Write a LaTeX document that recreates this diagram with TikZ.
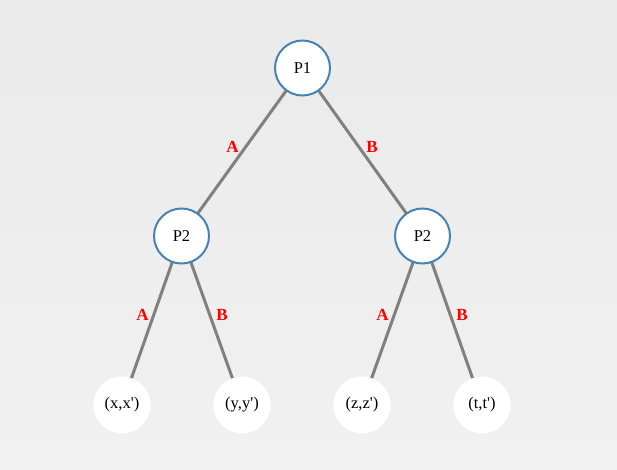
\documentclass[tikz,border=0pt]{standalone}
\usepackage{fontspec}
\setmainfont{Liberation Serif}[Ligatures=TeXOff]
\begin{document}
\begin{tikzpicture}[x=1pt,y=-1pt,
  player/.style={circle,draw=steelblue,line width=2pt,fill=white,minimum size=55pt,inner sep=0pt,font=\fontsize{16.5}{18}\selectfont},
  leaf/.style={circle,fill=white,minimum size=57pt,inner sep=0pt,font=\fontsize{16.5}{18}\selectfont},
  edge/.style={draw=edgegray,line width=3pt},
  lab/.style={text=red,font=\fontsize{17}{18}\selectfont\bfseries,inner sep=0pt}]
\definecolor{steelblue}{HTML}{4682B4}
\definecolor{edgegray}{HTML}{808080}
\definecolor{bgtop}{HTML}{EAEAEA}
\definecolor{bgbot}{HTML}{F1F1F1}
\shade[top color=bgtop,bottom color=bgbot] (0,0) rectangle (617,470);
\useasboundingbox (0,0) rectangle (617,470);
\coordinate (c1) at (302.5,68);
\coordinate (c2) at (181.5,236);
\coordinate (c3) at (422.5,236);
\coordinate (c4) at (122,405);
\coordinate (c5) at (242,405);
\coordinate (c6) at (362,405);
\coordinate (c7) at (482,405);
\draw[edge] (c1) -- (c2);
\draw[edge] (c1) -- (c3);
\draw[edge] (c2) -- (c4);
\draw[edge] (c2) -- (c5);
\draw[edge] (c3) -- (c6);
\draw[edge] (c3) -- (c7);
\node[player] (p1) at (c1) {P1};
\node[player] (p2a) at (c2) {P2};
\node[player] (p2b) at (c3) {P2};
\node[leaf] (l1) at (c4) {(x,x')};
\node[leaf] (l2) at (c5) {(y,y')};
\node[leaf] (l3) at (c6) {(z,z')};
\node[leaf] (l4) at (c7) {(t,t')};
\node[lab] (a1) at (232.5,147) {A};
\node[lab] (b1) at (372,147) {B};
\node[lab] (a2) at (142.5,315) {A};
\node[lab] (b2) at (222,315) {B};
\node[lab] (a3) at (382.5,315) {A};
\node[lab] (b3) at (462,315) {B};
\end{tikzpicture}
\end{document}
